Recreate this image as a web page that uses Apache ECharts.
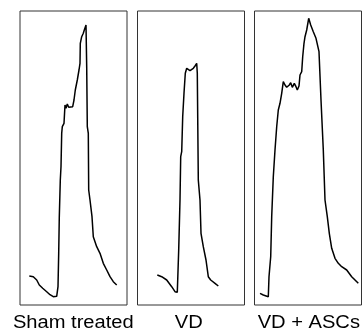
<!DOCTYPE html>
<html>
<head>
<meta charset="utf-8">
<script src="https://cdn.jsdelivr.net/npm/echarts@6/dist/echarts.min.js"></script>
<style>html,body{margin:0;padding:0;background:#fff}#c{width:363px;height:333px}</style>
</head>
<body>
<div id="c"></div>
<script>
// Panel labels
const categories = ['Sham treated', 'VD', 'VD + ASCs'];

// Trace data: time (arbitrary units) and amplitude (arbitrary units)
const shamT = [9.3,13.3,16.7,19.3,22.7,26.7,30,33.3,36.7,38,38.7,39.3,40.3,41,41.7,42.3,44,45,46,47.3,48.7,50,52.7,54,55.3,57.3,59,60,60.3,61.7,63.3,64.3,66,66.7,67.3,68.3,68.7,70,72,73.3,76.7,80,83.3,86.7,90,93.3,96.7];
const shamV = [29,28.3,25,20,16.7,13.3,10.3,8.3,8.7,18.3,51.7,88.3,125,138.3,171.7,178.3,181.7,200,196.7,201,197.7,199,198.3,205,215,225,235,241.7,261.7,268.3,271.7,275,280,238.3,178.3,171.7,115,105,88.3,68.3,58.3,51.7,41.7,35,28.3,23.3,20];

const vdT = [19.8,24.2,29.2,34.2,37.5,39.8,41.2,42.5,43.2,44.2,45.2,46.5,47.8,49.2,50.8,52.5,54.2,55.8,57.5,59.2,59.8,60.8,62.5,63.5,65.8,68.5,70.8,73.2,77.5,80.8];
const vdV = [30,28.3,25,18.3,13.3,12.7,55,105,148.3,153.3,188.3,211.7,231.7,236.7,237.3,234.3,235,236.7,239,241.7,231.7,125,105,71.7,58.3,45,28.3,25,21.7,19];

const ascT = [5.5,8.8,13.8,14.5,16.2,17.2,18.8,20.5,22.2,23.8,25.5,27.2,28.8,30.5,32.2,34.8,36.2,37.8,39.8,40.8,41.5,42.8,44.5,45.5,47.2,48.2,49.5,50.5,52.2,54.2,56.2,58.8,61.5,64.5,66.5,68.8,70.5,72.8,74.8,77.2,80.5,83.8,87.2,92.2,97.2,100.5,103.8];
const ascV = [11.7,10,8.3,28.3,48.3,88.3,128.3,155,178.3,195,201.7,211.7,223.3,220,217.7,220,222.3,217.7,221.7,223.3,218.3,215,219,230,233.3,248.3,261.7,268.3,275,286.7,280,273.3,266.7,253.3,205,155,105,88.3,71.7,56.7,46.7,41.7,38.3,35,28.3,25,21.7];

const X_MAX = 107, Y_MAX = 294;
const zip = (t, v) => t.map((x, i) => [x, v[i]]);
const seriesData = [zip(shamT, shamV), zip(vdT, vdV), zip(ascT, ascV)];

const panelLeft = [20, 137.5, 254.5];
const panelTop = 11, panelW = 107, panelH = 294;
const labelX = [73.3, 188.7, 308.8];

const chart = echarts.init(document.getElementById('c'), null, {renderer: 'canvas'});
const grids = [], xAxes = [], yAxes = [], series = [], graphics = [];
categories.forEach((name, i) => {
  grids.push({left: panelLeft[i], top: panelTop, width: panelW, height: panelH,
    show: true, borderColor: '#333', borderWidth: 1, backgroundColor: 'transparent', containLabel: false});
  xAxes.push({type: 'value', gridIndex: i, min: 0, max: X_MAX, show: false});
  yAxes.push({type: 'value', gridIndex: i, min: 0, max: Y_MAX, show: false});
  series.push({type: 'line', name, xAxisIndex: i, yAxisIndex: i, data: seriesData[i],
    showSymbol: false, symbol: 'none', smooth: false,
    lineStyle: {color: '#000', width: 1.5}, animation: false});
  graphics.push({type: 'text', x: labelX[i], y: 323, scaleX: 1.15,
    style: {text: name, font: '17.5px "Liberation Sans", Arial, sans-serif', fill: '#000',
      align: 'center', verticalAlign: 'middle'}});
});

chart.setOption({
  animation: false,
  grid: grids,
  xAxis: xAxes,
  yAxis: yAxes,
  series,
  graphic: graphics
});
</script>
</body>
</html>
